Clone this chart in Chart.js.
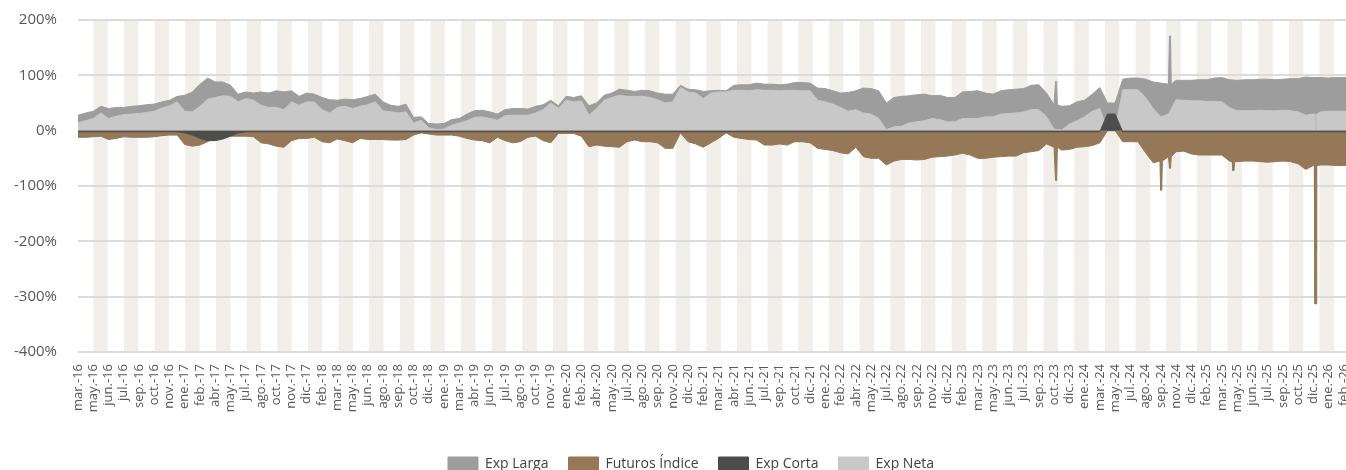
<!DOCTYPE html>
<html><head><meta charset="utf-8">
<script src="https://cdn.jsdelivr.net/npm/chart.js@4/dist/chart.umd.min.js"></script>
<style>
html,body{margin:0;padding:0;background:#fff;overflow:hidden;width:1346px;height:470px;}
canvas{display:block;}
</style></head>
<body>
<canvas id="c" width="1382" height="481"></canvas>
<script>
// Category (tick) labels along the x axis, one every 30 trading days
const tickLabels = ["mar.-16","may.-16","jun.-16","jul.-16","sep.-16","oct.-16","nov.-16","ene.-17","feb.-17","abr.-17","may.-17","jul.-17","ago.-17","oct.-17","nov.-17","dic.-17","feb.-18","mar.-18","may.-18","jun.-18","ago.-18","sep.-18","oct.-18","dic.-18","ene.-19","mar.-19","abr.-19","jun.-19","jul.-19","ago.-19","oct.-19","nov.-19","ene.-20","feb.-20","abr.-20","may.-20","jul.-20","ago.-20","sep.-20","nov.-20","dic.-20","feb.-21","mar.-21","abr.-21","jun.-21","jul.-21","sep.-21","oct.-21","dic.-21","ene.-22","feb.-22","abr.-22","may.-22","jul.-22","ago.-22","sep.-22","nov.-22","dic.-22","feb.-23","mar.-23","may.-23","jun.-23","jul.-23","sep.-23","oct.-23","dic.-23","ene.-24","mar.-24","may.-24","jul.-24","ago.-24","sep.-24","nov.-24","dic.-24","feb.-25","mar.-25","may.-25","jun.-25","jul.-25","sep.-25","oct.-25","dic.-25","ene.-26","feb.-26"];

// Series values (%), sampled every half tick interval
const expLarga = [
28,32,35,44,40,42,42,44,45,47,
48,52,55,62,64,70,84,95,88,88,
82,66,70,68,70,68,72,70,72,62,
68,66,60,56,55,57,56,58,62,66,
52,46,44,48,24,25,13,12,13,20,
22,30,36,37,34,30,38,40,40,39,
44,47,55,45,62,60,63,45,50,64,
68,75,73,71,73,72,68,66,66,82,
75,74,71,72,73,72,82,83,83,86,
84,84,83,84,87,87,86,77,76,72,
68,69,72,77,76,72,50,60,62,63,
65,66,63,64,60,60,70,71,72,68,
66,72,74,75,76,82,83,68,47,44,
45,52,55,66,78,50,50,93,95,95,
93,88,86,84,91,91,91,92,92,95,
96,92,91,92,92,93,93,92,93,94,
94,97,96,96,95,96,96,96,96];

const futurosIndice = [
-12,-12,-11,-10,-16,-14,-11,-12,-12,-12,
-11,-9,-8,-8,-25,-28,-26,-20,-10,-10,
-10,-10,-10,-11,-22,-24,-28,-30,-18,-14,
-14,-12,-20,-22,-15,-18,-22,-14,-16,-16,
-16,-17,-17,-16,-8,-4,-6,-8,-8,-8,
-10,-14,-17,-18,-22,-12,-18,-22,-20,-12,
-10,-18,-22,-5,-5,-5,-10,-29,-26,-28,
-29,-30,-20,-17,-20,-20,-22,-32,-32,-4,
-20,-24,-30,-22,-14,-4,-12,-14,-16,-17,
-26,-26,-24,-26,-20,-20,-22,-32,-34,-36,
-40,-42,-30,-47,-50,-50,-62,-55,-52,-52,
-53,-52,-48,-47,-46,-44,-41,-44,-50,-50,
-48,-47,-46,-46,-40,-38,-36,-24,-30,-35,
-34,-30,-29,-27,-22,0,0,-20,-20,-20,
-40,-58,-55,-47,-38,-37,-42,-44,-44,-44,
-44,-55,-56,-55,-55,-56,-57,-56,-55,-56,
-60,-70,-63,-62,-62,-63,-63,-62,-62];

const expCorta = [
-2,-2,-2,-2,-2,-2,-2,-2,-2,-2,
-2,-2,-2,-2,-4,-8,-14,-18,-18,-15,
-10,-4,-2,-2,-2,-2,-2,-2,-2,-2,
-2,-2,-2,-2,-2,-2,-2,-2,-2,-2,
-2,-2,-2,-2,-2,-2,-2,-2,-2,-2,
-2,-2,-2,-2,-2,-2,-2,-2,-2,-2,
-2,-2,-2,-2,-2,-2,-2,-2,-2,-2,
-2,-2,-2,-2,-2,-2,-2,-2,-2,-2,
-2,-2,-2,-2,-2,-2,-2,-2,-2,-2,
-2,-2,-2,-2,-2,-2,-2,-2,-2,-2,
-2,-2,-2,-2,-2,-2,-2,-2,-2,-2,
-2,-2,-2,-2,-2,-2,-2,-2,-2,-2,
-2,-2,-2,-2,-2,-2,-2,-2,-2,-2,
-2,-2,-2,-2,-2,30,30,-2,-2,-2,
-2,-2,-2,-2,-2,-2,-2,-2,-2,-2,
-2,-2,-2,-2,-2,-2,-2,-2,-2,-2,
-2,-2,-2,-2,-2,-2,-2,-2,-2];

const expNeta = [
14,18,22,32,22,26,29,30,31,33,
35,41,45,52,35,34,44,57,60,63,
62,52,58,55,46,42,42,38,52,46,
52,52,38,32,42,44,40,44,47,52,
36,34,32,34,14,19,5,2,3,10,
14,18,24,25,22,19,27,28,28,28,
32,38,50,40,55,52,54,28,40,55,
60,64,62,62,62,60,56,50,52,78,
70,68,58,68,70,70,73,73,72,74,
73,73,72,73,73,72,72,55,52,48,
42,35,38,32,30,22,2,7,8,14,
16,18,22,20,16,16,22,22,22,25,
25,30,31,32,34,38,38,25,3,1,
12,18,25,35,40,0,0,74,74,74,
60,40,25,30,56,55,54,54,53,53,
52,42,36,36,36,37,36,36,37,36,
34,28,30,34,35,35,35,35,35];

// One-day spikes: position in tick units and the spike value per series
const spikes = [
  {at: 64.13, larga: 89, futuros: -90},
  {at: 71.02, futuros: -108},
  {at: 71.60, larga: 171, futuros: -68},
  {at: 75.76, futuros: -72},
  {at: 81.14, futuros: -313, neta: -220}
];

const STEP = 0.5;
function toPoints(values, key){
  const pts = values.map((v,i)=>({x:i*STEP, y:v}));
  spikes.forEach(s=>{
    if(s[key]===undefined) return;
    const base = values[Math.round(s.at/STEP)];
    pts.push({x:s.at-0.08,y:base},{x:s.at-0.035,y:s[key]},{x:s.at+0.035,y:s[key]},{x:s.at+0.08,y:base});
  });
  pts.sort((a,b)=>a.x-b.x);
  return pts;
}

const stripes = {
  id:'stripes',
  beforeDraw(chart){
    const {ctx, chartArea:a, scales:{x}} = chart;
    ctx.save();
    ctx.fillStyle = '#f2efea';
    for(let s=1.0; s<x.max; s+=2.01){
      const l = x.getPixelForValue(s), r = Math.min(x.getPixelForValue(s+0.95), a.right);
      ctx.fillRect(l, a.top, r-l, a.bottom-a.top);
    }
    ctx.restore();
  }
};

Chart.defaults.font.family = "'Open Sans', sans-serif";
const mk = (label, data, color, order) => ({label, data, backgroundColor:color, borderColor:color, borderWidth:1, fill:'origin', pointRadius:0, tension:0, order});

new Chart(document.getElementById('c'), {
  type:'line',
  data:{datasets:[
    mk('Exp Larga', toPoints(expLarga,'larga'), '#9d9d9d', 4),
    mk('Futuros Índice', toPoints(futurosIndice,'futuros'), '#947857', 2),
    mk('Exp Corta', toPoints(expCorta,'corta'), '#4d4d4d', 1),
    mk('Exp Neta', toPoints(expNeta,'neta'), '#c8c8c8', 3)
  ]},
  options:{
    responsive:false, animation:false,
    layout:{padding:{top:20,left:0,right:0,bottom:0}},
    scales:{
      x:{type:'linear', min:0, max:85.5,
        afterBuildTicks:(s)=>{ s.ticks = tickLabels.map((_,i)=>({value:i})); },
        afterFit:(s)=>{ s.height = 85; },
        ticks:{autoSkip:false, minRotation:90, maxRotation:90, padding:12, color:'#595959', font:{size:13},
          callback:(v)=> tickLabels[v] ?? ''},
        grid:{display:false, drawTicks:false}, border:{display:false}},
      y:{min:-400, max:200,
        afterFit:(s)=>{ s.width = 78; },
        ticks:{stepSize:100, padding:0, color:'#595959', font:{size:15}, callback:(v)=> v+'%'},
        grid:{color:'#dcdcdc', lineWidth:2, drawTicks:true, tickLength:21, tickColor:'rgba(0,0,0,0)'}, border:{display:false}}
    },
    plugins:{
      legend:{position:'bottom', labels:{boxWidth:30, boxHeight:14, padding:20, color:'#404040', font:{size:14},
        sort:(a,b)=>a.datasetIndex-b.datasetIndex}},
      tooltip:{enabled:false}
    }
  },
  plugins:[stripes]
});
</script>
</body></html>
